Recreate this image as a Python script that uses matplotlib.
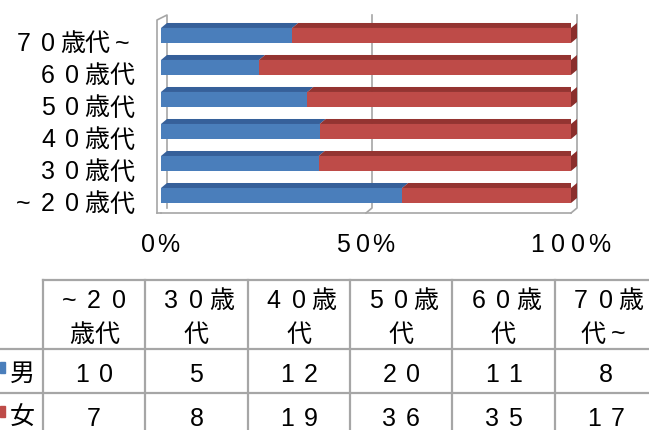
import numpy as np
import matplotlib
matplotlib.use('Agg')
import matplotlib.pyplot as plt
from matplotlib.patches import Polygon

plt.rcParams['font.family'] = ['Liberation Sans', 'Noto Sans CJK JP', 'DejaVu Sans']

# data
ages = ['~20歳代', '30歳代', '40歳代', '50歳代', '60歳代', '70歳代~']
head_line1 = ['~20', '30歳', '40歳', '50歳', '60歳', '70歳']
head_line2 = ['歳代', '代', '代', '代', '代', '代~']
male = [10, 5, 12, 20, 11, 8]
female = [7, 8, 19, 36, 35, 17]
series_names = ['男', '女']
tick_vals = [0, 50, 100]
tick_labels = ['0%', '50%', '100%']

W, H = 649, 430
fig = plt.figure(figsize=(W / 100, H / 100), dpi=100)

# colours
blue, blue_top = '#4a7ebb', '#36609a'
red, red_top, red_cap = '#be4b48', '#943431', '#8a2e2c'
grey = '#a6a6a6'
FS = 18


def spaced(axis, x, y, s, pitch, ha='center', size=FS):
    # draw text one character per fixed-width cell (Excel style spacing)
    n = len(s)
    if ha == 'center':
        start = x - n * pitch / 2
    elif ha == 'right':
        start = x - n * pitch
    else:
        start = x
    for k, ch in enumerate(s):
        axis.text(start + (k + 0.5) * pitch, y + 9, ch, ha='center', va='baseline', fontsize=size)


# chart axes (front plane)
ax = fig.add_axes([161 / W, 1 - 213 / H, 410 / W, 198 / H])
ybot, ytop = -0.547, 5.64
ax.set_xlim(0, 100)
ax.set_ylim(ybot, ytop)
ax.axis('off')

dx = 6 * 100 / 410      # depth in x (data units)
dy = 5 / 32             # depth in y (data units)
front_h = 15 / 32

m = np.array(male, float)
f = np.array(female, float)
tot = m + f
pm = m / tot * 100
pf = f / tot * 100
y = np.arange(len(ages))

# back-plane lines and wall
for v in tick_vals[1:]:
    ax.plot([v + dx, v + dx, v], [ytop, ybot + dy, ybot], color=grey, lw=1.2, zorder=1, clip_on=False)
ax.plot([0, 100], [ybot, ybot], color=grey, lw=1.2, zorder=1, clip_on=False)
wx0 = -4 * 100 / 410
ax.plot([wx0, wx0, wx0 + dx + 4 * 100 / 410, dx, dx], [ybot, ytop - dy, ytop, ytop, ybot + dy],
        color=grey, lw=1.2, zorder=1, clip_on=False)
ax.plot([wx0, 0], [ybot, ybot], color=grey, lw=1.2, zorder=1, clip_on=False)

# bars with pseudo-3D top face and end cap
ax.barh(y, pm, height=front_h, color=blue, zorder=3)
ax.barh(y, pf, left=pm, height=front_h, color=red, zorder=3)
for i in range(len(ages)):
    yt = y[i] + front_h / 2
    yb = y[i] - front_h / 2
    segs = [(0, pm[i], blue_top), (pm[i], 100, red_top)]
    for x0, x1, c in segs:
        ax.add_patch(Polygon([(x0, yt), (x1, yt), (x1 + dx, yt + dy), (x0 + dx, yt + dy)],
                             closed=True, facecolor=c, edgecolor='none', zorder=4))
    ax.add_patch(Polygon([(100, yb), (100, yt), (100 + dx, yt + dy), (100 + dx, yb + dy)],
                         closed=True, facecolor=red_cap, edgecolor='none', zorder=4, clip_on=False))

# overlay axes in pixel coords for labels and the data table
tb = fig.add_axes([0, 0, 1, 1])
tb.set_xlim(0, W)
tb.set_ylim(H, 0)
tb.axis('off')
tb.set_zorder(5)


def to_px(xd, yd):
    px, py = ax.transData.transform((xd, yd))
    return px, H - py


# category labels
for i, lab in enumerate(ages):
    _, py = to_px(0, y[i])
    spaced(tb, 134, py + 7, lab, 24.6, ha='right')

# x tick labels
for v, lab in zip(tick_vals, tick_labels):
    px, _ = to_px(v, 0)
    spaced(tb, px - 3, 243, lab, 20.5)

# data table
col0, colw = 43, 102.3
r_top, r1, r2 = 280, 349, 393
lw_t = 1.6
tb.plot([col0, W], [r_top, r_top], color=grey, lw=lw_t)
tb.plot([0, W], [r1, r1], color=grey, lw=lw_t)
tb.plot([0, W], [r2, r2], color=grey, lw=lw_t)
for j in range(len(ages)):
    xe = col0 + j * colw
    tb.plot([xe, xe], [r_top, H], color=grey, lw=lw_t)

for j in range(len(ages)):
    xc = col0 + (j + 0.5) * colw
    spaced(tb, xc, 299, head_line1[j], 25)
    spaced(tb, xc, 332.5, head_line2[j], 25)
    spaced(tb, xc, 372.5, str(male[j]), 23.5)
    spaced(tb, xc, 416.5, str(female[j]), 23.5)

for name, c, yc in zip(series_names, [blue, red], [372, 416]):
    tb.add_patch(plt.Rectangle((0, yc - 10), 4.5, 11, color=c))
    spaced(tb, 22, yc, name, 25)

fig.savefig('out.png', dpi=100)
